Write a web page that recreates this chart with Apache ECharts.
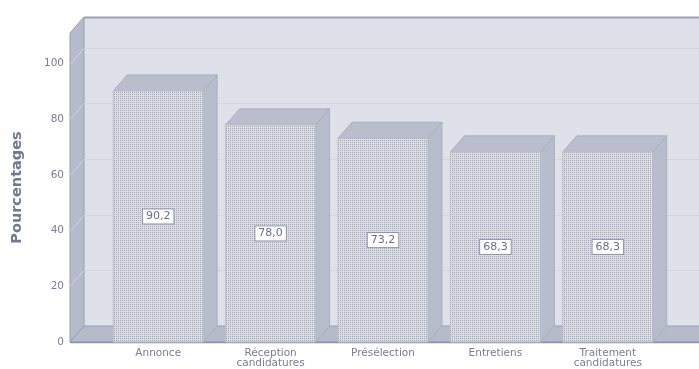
<!DOCTYPE html>
<html>
<head>
<meta charset="utf-8">
<script src="https://cdn.jsdelivr.net/npm/echarts@6/dist/echarts.min.js"></script>
<style>
html,body{margin:0;padding:0;background:#fff;}
#chart{width:699px;height:369px;}
</style>
</head>
<body>
<div id="chart"></div>
<script>
var categories = ['Annonce', 'Réception\ncandidatures', 'Présélection', 'Entretiens', 'Traitement\ncandidatures'];
var values = [90.2, 78.0, 73.2, 68.3, 68.3];
var yTicks = [0, 20, 40, 60, 80, 100];
var yTitle = 'Pourcentages';

var DX = 14, DY = -16;
var WALL_LEFT_OFFSET = 32;
var WALL_RIGHT_EXTRA = 21;

var pat = document.createElement('canvas');
pat.width = 2; pat.height = 2;
var pc = pat.getContext('2d');
pc.fillStyle = '#dcdee5'; pc.fillRect(0,0,2,2);
pc.fillStyle = '#9ea4b6'; pc.fillRect(0,0,1,1);

var chart = echarts.init(document.getElementById('chart'));

function fmt(v){ return v.toFixed(1).replace('.', ','); }

var option = {
  animation: false,
  backgroundColor: '#ffffff',
  grid: { left: 102, right: 35, top: 33, bottom: 27 },
  xAxis: {
    type: 'category',
    data: categories,
    axisLine: { show: false },
    axisTick: { show: false },
    axisLabel: { color: '#767d9b', fontFamily: 'DejaVu Sans', fontSize: 10.5, lineHeight: 10, margin: 6, interval: 0 }
  },
  yAxis: {
    type: 'value', min: 0, max: 111, interval: 20,
    axisLine: { show: false }, axisTick: { show: false },
    splitLine: { show: false },
    axisLabel: { color: '#767d9b', fontFamily: 'DejaVu Sans', fontSize: 10.5, margin: 38, showMaxLabel: false,
      formatter: function(v){ return yTicks.indexOf(v) >= 0 ? String(v) : ''; } },
    name: yTitle, nameLocation: 'middle', nameGap: 77, nameRotate: 90,
    nameTextStyle: { color: '#707897', fontFamily: 'DejaVu Sans', fontSize: 14.5, fontWeight: 'bold' }
  },
  series: [
    {
      type: 'custom', z: 1, silent: true,
      data: [[0, 0]],
      renderItem: function(params, api){
        var cs = params.coordSys;
        var fl = cs.x - WALL_LEFT_OFFSET;
        var fr = cs.x + cs.width + WALL_RIGHT_EXTRA;
        var top = api.coord([0, 111])[1];
        var bot = api.coord([0, 0])[1];
        var children = [];
        children.push({ type: 'rect', shape: { x: fl + DX, y: top + DY, width: fr - fl + 20, height: bot - top },
          style: { fill: '#dee1e9', stroke: null } });
        children.push({ type: 'line', shape: { x1: fl + DX, y1: top + DY + 0.5, x2: fr + DX + 20, y2: top + DY + 0.5 },
          style: { stroke: '#9ba1b6', lineWidth: 2 } });
        children.push({ type: 'polygon', shape: { points: [[fl, top], [fl + DX, top + DY], [fl + DX, bot + DY], [fl, bot]] },
          style: { fill: '#b6bbcb', stroke: '#979eb3', lineWidth: 1 } });
        children.push({ type: 'polygon', shape: { points: [[fl, bot], [fl + DX, bot + DY], [fr + DX + 20, bot + DY], [fr + 20, bot]] },
          style: { fill: '#b6bbcb', stroke: '#979eb3', lineWidth: 1 } });
        for (var i = 1; i < yTicks.length; i++) {
          var y = Math.round(api.coord([0, yTicks[i]])[1]) + 0.5;
          children.push({ type: 'line', shape: { x1: fl + DX, y1: y + DY, x2: fr + DX + 20, y2: y + DY },
            style: { stroke: '#d3d6df', lineWidth: 1 } });
          children.push({ type: 'line', shape: { x1: fl, y1: y, x2: fl + DX, y2: y + DY },
            style: { stroke: '#d0d4de', lineWidth: 1 } });
        }
        children.push({ type: 'line', shape: { x1: fl, y1: bot + 0.5, x2: fr + 20, y2: bot + 0.5 },
          style: { stroke: '#8c94ab', lineWidth: 1.5 } });
        return { type: 'group', children: children };
      }
    },
    {
      type: 'custom', z: 2, silent: true,
      data: values.map(function(v, i){ return [i, v]; }),
      renderItem: function(params, api){
        var i = api.value(0), v = api.value(1);
        var p = api.coord([i, v]);
        var p0 = api.coord([i, 0]);
        var w = api.size([1, 0])[0] * 0.8;
        var x = p[0] - w / 2, y = p[1], b = p0[1];
        return { type: 'group', children: [
          { type: 'polygon', shape: { points: [[x + w, y], [x + w + DX, y + DY], [x + w + DX, b + DY], [x + w, b]] },
            style: { fill: '#b7bccb', stroke: '#abb0c2', lineWidth: 1 } },
          { type: 'polygon', shape: { points: [[x, y], [x + DX, y + DY], [x + w + DX, y + DY], [x + w, y]] },
            style: { fill: '#b9bdcc', stroke: '#abb0c2', lineWidth: 1 } },
          { type: 'rect', shape: { x: x, y: y, width: w, height: b - y },
            style: { fill: { image: pat, repeat: 'repeat' }, stroke: '#b9bdcb', lineWidth: 1 } },
          { type: 'text', x: p[0], y: (y + b) / 2,
            style: { text: fmt(v), fill: '#666d8c', font: '11px "DejaVu Sans"', align: 'center', verticalAlign: 'middle',
              backgroundColor: '#ffffff', borderColor: '#8f95ab', borderWidth: 1, padding: [2, 3, 1, 3] } }
        ]};
      }
    }
  ]
};
chart.setOption(option);
</script>
</body>
</html>
